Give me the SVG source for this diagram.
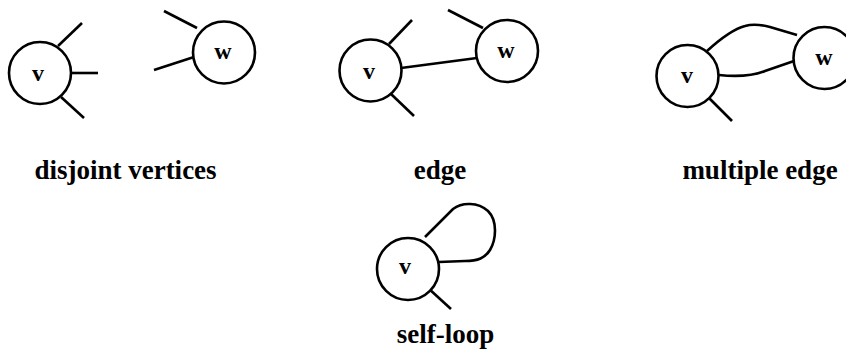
<svg xmlns="http://www.w3.org/2000/svg" width="846" height="349" viewBox="0 0 846 349">
<style>
.node circle{fill:#fff;stroke:#000;stroke-width:2.6}
.lbl{font-family:"Liberation Serif","Times New Roman",serif;font-weight:bold;font-size:24px;text-anchor:middle;fill:#000}
.cap{font-family:"Liberation Serif","Times New Roman",serif;font-weight:bold;font-size:27px;text-anchor:middle;fill:#000}
#connectors line,#connectors path{stroke:#000;stroke-width:2.6;fill:none}
</style>
<rect width="846" height="349" fill="#fff"/>
<g id="connectors">
<line x1="58" y1="46" x2="82" y2="23"/>
<line x1="71" y1="73" x2="98" y2="73"/>
<line x1="61" y1="97" x2="84" y2="118"/>
<line x1="164" y1="11" x2="197" y2="28"/>
<line x1="154" y1="70" x2="194" y2="57"/>
<line x1="389" y1="44" x2="412" y2="20"/>
<line x1="391" y1="94" x2="414" y2="116"/>
<line x1="401" y1="68" x2="477" y2="58"/>
<line x1="448" y1="10" x2="483" y2="28"/>
<path d="M707,51 Q730,30 745,26 Q755,23 770,27 L797,35"/>
<path d="M719,75 C738,77 755,75 765,71 L794,61"/>
<line x1="709" y1="98" x2="732" y2="121"/>
<path d="M425,237 L453,209 C462,202 478,202 488,211 C498,221 496,240 490,250 C485,258 478,261 465,261 L439,262"/>
<line x1="428" y1="288" x2="451" y2="309"/>
</g>
<g id="node-v1" class="node"><circle cx="40" cy="73" r="31"/><text class="lbl" x="38" y="81">v</text></g>
<g id="node-w1" class="node"><circle cx="224" cy="52.5" r="31"/><text class="lbl" x="223" y="59">w</text></g>
<g id="node-v2" class="node"><circle cx="370.5" cy="70.5" r="31"/><text class="lbl" x="369" y="79">v</text></g>
<g id="node-w2" class="node"><circle cx="507" cy="51" r="31"/><text class="lbl" x="506" y="58">w</text></g>
<g id="node-v3" class="node"><circle cx="687.5" cy="76" r="31"/><text class="lbl" x="687" y="83">v</text></g>
<g id="node-w3" class="node"><circle cx="824.5" cy="58" r="31"/><text class="lbl" x="824" y="65">w</text></g>
<g id="node-v4" class="node"><circle cx="408" cy="269" r="31"/><text class="lbl" x="405" y="274">v</text></g>
<text class="cap" x="125.5" y="179">disjoint vertices</text>
<text class="cap" x="440" y="179">edge</text>
<text class="cap" x="760" y="179">multiple edge</text>
<text class="cap" x="445.5" y="343">self-loop</text>
</svg>
